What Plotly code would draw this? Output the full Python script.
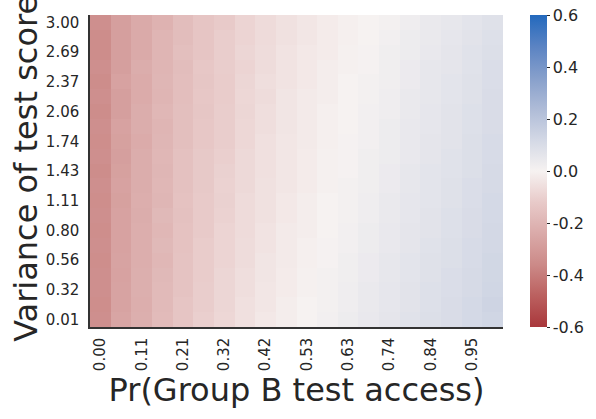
import plotly.graph_objects as go

# x: Pr(Group B test access), 20 columns
x_values = [0.0, 0.0526, 0.1053, 0.1579, 0.2105, 0.2632, 0.3158, 0.3684, 0.4211, 0.4737,
            0.5263, 0.5789, 0.6316, 0.6842, 0.7368, 0.7895, 0.8421, 0.8947, 0.9474, 1.0]
x_tick_labels = ["0.00", "0.11", "0.21", "0.32", "0.42", "0.53", "0.63", "0.74", "0.84", "0.95"]
y_tick_labels = ["0.01", "0.32", "0.56", "0.80", "1.11", "1.43", "1.74", "2.06", "2.37", "2.69", "3.00"]

# rows listed from top (variance 3.00) to bottom (variance 0.01)
z_top_to_bottom = [
    [-0.34, -0.28, -0.24, -0.21, -0.17, -0.14, -0.12, -0.09, -0.07, -0.05, -0.035, -0.02, -0.01, 0.00, 0.01, 0.025, 0.04, 0.05, 0.065, 0.08],
    [-0.35, -0.28, -0.24, -0.20, -0.17, -0.14, -0.11, -0.09, -0.07, -0.05, -0.035, -0.02, -0.01, 0.00, 0.015, 0.03, 0.04, 0.055, 0.07, 0.085],
    [-0.35, -0.28, -0.24, -0.20, -0.16, -0.14, -0.11, -0.085, -0.065, -0.045, -0.03, -0.02, -0.005, 0.005, 0.02, 0.03, 0.045, 0.06, 0.075, 0.09],
    [-0.34, -0.28, -0.23, -0.20, -0.17, -0.13, -0.11, -0.09, -0.065, -0.045, -0.03, -0.015, -0.005, 0.005, 0.02, 0.035, 0.05, 0.06, 0.075, 0.095],
    [-0.35, -0.27, -0.235, -0.195, -0.165, -0.135, -0.115, -0.085, -0.06, -0.045, -0.03, -0.015, 0.00, 0.01, 0.02, 0.035, 0.05, 0.065, 0.08, 0.095],
    [-0.34, -0.28, -0.235, -0.20, -0.165, -0.13, -0.115, -0.08, -0.065, -0.04, -0.025, -0.015, 0.00, 0.01, 0.025, 0.04, 0.05, 0.065, 0.08, 0.10],
    [-0.35, -0.28, -0.23, -0.19, -0.16, -0.135, -0.11, -0.085, -0.06, -0.04, -0.025, -0.01, 0.00, 0.015, 0.025, 0.04, 0.055, 0.07, 0.085, 0.10],
    [-0.34, -0.27, -0.23, -0.20, -0.16, -0.13, -0.11, -0.08, -0.06, -0.04, -0.025, -0.01, 0.00, 0.015, 0.03, 0.045, 0.055, 0.07, 0.085, 0.10],
    [-0.345, -0.275, -0.235, -0.195, -0.16, -0.13, -0.11, -0.08, -0.055, -0.035, -0.025, -0.01, 0.005, 0.015, 0.03, 0.045, 0.06, 0.07, 0.09, 0.105],
    [-0.34, -0.28, -0.23, -0.19, -0.155, -0.125, -0.105, -0.075, -0.055, -0.035, -0.02, -0.005, 0.005, 0.02, 0.03, 0.045, 0.06, 0.075, 0.09, 0.105],
    [-0.35, -0.275, -0.23, -0.195, -0.155, -0.125, -0.10, -0.075, -0.055, -0.035, -0.02, -0.005, 0.005, 0.02, 0.035, 0.05, 0.065, 0.075, 0.09, 0.11],
    [-0.34, -0.27, -0.23, -0.19, -0.155, -0.125, -0.095, -0.075, -0.05, -0.035, -0.02, -0.005, 0.01, 0.02, 0.035, 0.05, 0.065, 0.08, 0.095, 0.11],
    [-0.345, -0.275, -0.225, -0.195, -0.15, -0.12, -0.10, -0.07, -0.05, -0.03, -0.015, 0.00, 0.01, 0.025, 0.04, 0.055, 0.065, 0.08, 0.095, 0.115],
    [-0.34, -0.27, -0.23, -0.185, -0.155, -0.12, -0.095, -0.07, -0.05, -0.03, -0.015, 0.00, 0.01, 0.025, 0.04, 0.055, 0.07, 0.085, 0.10, 0.115],
    [-0.345, -0.27, -0.225, -0.19, -0.15, -0.12, -0.09, -0.07, -0.045, -0.025, -0.015, 0.00, 0.015, 0.03, 0.045, 0.06, 0.07, 0.085, 0.10, 0.12],
    [-0.34, -0.27, -0.225, -0.185, -0.15, -0.115, -0.09, -0.065, -0.045, -0.025, -0.01, 0.005, 0.015, 0.03, 0.045, 0.06, 0.075, 0.09, 0.105, 0.12],
    [-0.345, -0.265, -0.225, -0.19, -0.145, -0.115, -0.09, -0.065, -0.04, -0.025, -0.01, 0.005, 0.02, 0.035, 0.05, 0.065, 0.08, 0.09, 0.105, 0.125],
    [-0.34, -0.27, -0.22, -0.185, -0.145, -0.115, -0.085, -0.06, -0.04, -0.02, -0.005, 0.01, 0.02, 0.035, 0.05, 0.065, 0.08, 0.095, 0.11, 0.125],
    [-0.34, -0.265, -0.22, -0.18, -0.145, -0.11, -0.085, -0.06, -0.035, -0.02, -0.005, 0.01, 0.025, 0.04, 0.055, 0.07, 0.085, 0.095, 0.11, 0.13],
    [-0.345, -0.265, -0.225, -0.18, -0.14, -0.11, -0.085, -0.055, -0.035, -0.015, 0.00, 0.01, 0.025, 0.04, 0.055, 0.07, 0.085, 0.10, 0.115, 0.135],
    [-0.34, -0.26, -0.22, -0.175, -0.14, -0.105, -0.08, -0.055, -0.03, -0.015, 0.00, 0.015, 0.03, 0.045, 0.06, 0.075, 0.09, 0.10, 0.115, 0.13],
]

z_rows = z_top_to_bottom[::-1]  # bottom row first
n_rows = len(z_rows)
n_cols = len(x_values)

vlag_r = [
    [0.0, "#a9373b"], [0.1, "#bb605f"], [0.2, "#cc8a88"], [0.3, "#daaaa9"],
    [0.4, "#e8cac9"], [0.5, "#f6f2f1"], [0.6, "#d3d8e5"], [0.7, "#aebbd7"],
    [0.8, "#869fcb"], [0.9, "#5a83c3"], [1.0, "#2369bd"],
]

font_family = "DejaVu Sans"
text_color = "#262626"

fig = go.Figure(go.Heatmap(
    z=z_rows,
    x=list(range(n_cols)),
    y=list(range(n_rows)),
    colorscale=vlag_r,
    zmin=-0.6, zmax=0.6,
    xgap=0, ygap=0,
    colorbar=dict(
        x=1.065, xanchor="left", xpad=0,
        y=0, yanchor="bottom", len=1, lenmode="fraction", ypad=0,
        thickness=17, outlinewidth=0,
        tickvals=[-0.6, -0.4, -0.2, 0.0, 0.2, 0.4, 0.6],
        ticktext=["-0.6", "-0.4", "-0.2", "0.0", "0.2", "0.4", "0.6"],
        ticks="outside", ticklen=3, tickcolor=text_color,
        tickfont=dict(family=font_family, size=16, color=text_color),
    ),
    showscale=True,
))

fig.update_layout(
    width=596, height=419,
    margin=dict(l=90, r=93, t=15, b=92, autoexpand=False),
    paper_bgcolor="white", plot_bgcolor="white",
    font=dict(family=font_family, color=text_color),
    xaxis=dict(
        tickmode="array",
        tickvals=list(range(0, n_cols, 2)),
        ticktext=x_tick_labels,
        tickangle=-90,
        tickfont=dict(size=15, color=text_color),
        ticks="outside", ticklen=3, tickcolor="rgba(0,0,0,0)",
        showgrid=False, zeroline=False, automargin=False,
        showline=True, linecolor="#333333", linewidth=1.5,
        range=[-0.5, n_cols - 0.5],
        title=dict(text="Pr(Group B test access)", font=dict(size=32, color=text_color), standoff=8),
    ),
    yaxis=dict(
        tickmode="array",
        tickvals=list(range(0, n_rows, 2)),
        ticktext=y_tick_labels,
        tickfont=dict(size=15, color=text_color),
        ticks="outside", ticklen=6, tickcolor="rgba(0,0,0,0)",
        showgrid=False, zeroline=False, automargin=False,
        showline=True, linecolor="#333333", linewidth=1.5,
        range=[-0.5, n_rows - 0.5],
    ),
    annotations=[dict(
        text="Variance of test score", textangle=-90,
        xref="paper", yref="paper", x=-0.155, y=0.51,
        xanchor="center", yanchor="middle", showarrow=False,
        font=dict(size=32, color=text_color, family=font_family),
    )],
)

fig.write_html("out.html", config={"displayModeBar": False},
               post_script="document.body.style.margin='0';")
